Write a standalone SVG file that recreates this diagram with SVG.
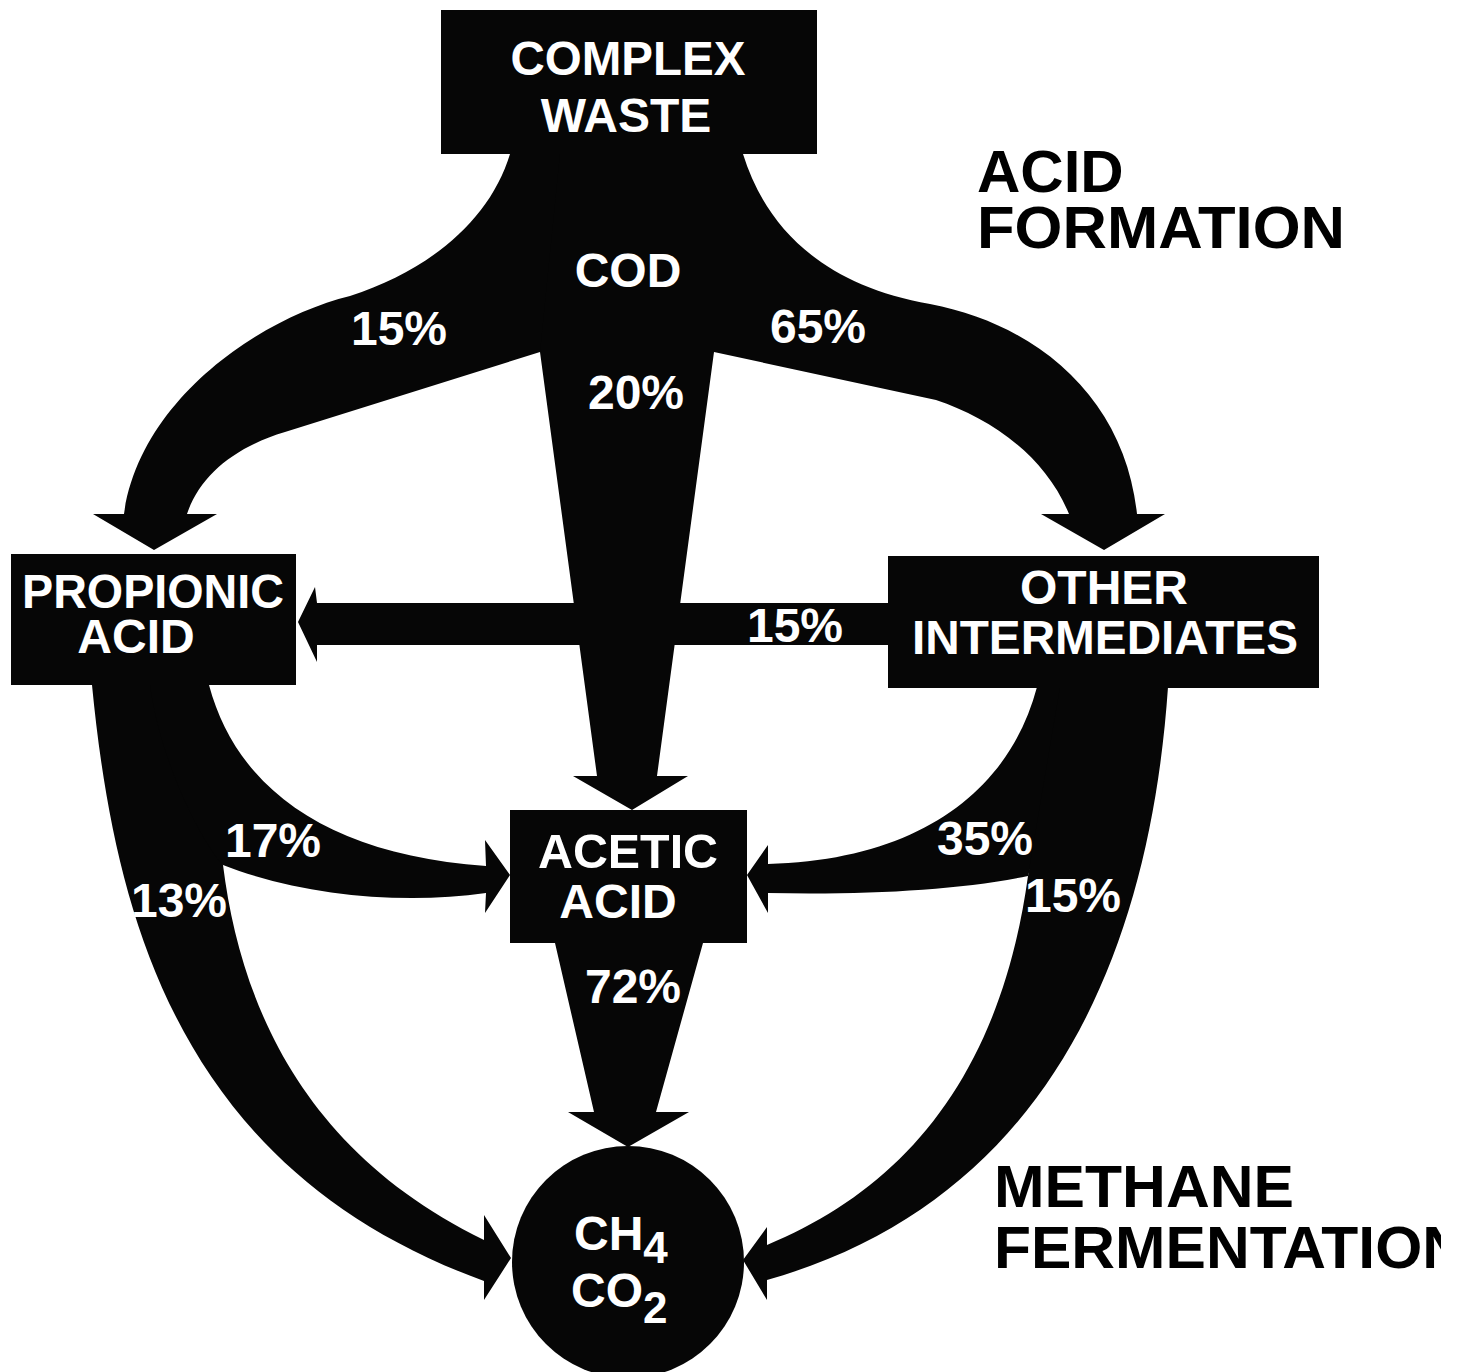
<svg xmlns="http://www.w3.org/2000/svg" width="1460" height="1372" viewBox="0 0 1460 1372">
<defs>
  <clipPath id="scanEdge"><rect x="0" y="0" width="1441" height="1372"/></clipPath>
</defs>
<style>
.blk{fill:#060606}
.lbl{font-family:"Liberation Sans",Arial,Helvetica,sans-serif;font-weight:bold;fill:#fff;font-size:48px}
.ttl{font-family:"Liberation Sans",Arial,Helvetica,sans-serif;font-weight:bold;fill:#000;font-size:60px}
.sub{font-size:44px}
</style>
<rect width="1460" height="1372" fill="#fff"/>
<g id="connectors" class="blk">
  <path id="flow-15-propionic" d="M510,154 C490,220 430,270 350,296 C260,318 140,400 124,514 L93,514 L154,550 L217,514 L187,514 C200,475 235,447 285,432 L540,352 L628,352 L628,154 Z"/>
  <path id="flow-20-acetic" d="M560,154 L700,154 L714,352 L657,776 L688,776 L632,810 L573,776 L597,776 L540,352 Z"/>
  <path id="flow-65-other" d="M743,154 C765,225 820,285 930,304 C1040,325 1125,400 1137,514 L1165,514 L1104,550 L1041,514 L1069,514 C1045,455 990,418 936,400 L714,352 L628,352 L628,154 Z"/>
  <path id="flow-15-other-propionic" d="M888,603 L317,603 L315,587 L298,622 L317,662 L317,645 L888,645 Z"/>
  <path id="flow-13-propionic-ch4" d="M92,685 C115,920 180,1170 484,1281 L484,1300 L511,1258 L484,1215 L484,1240 C300,1150 240,1000 223,865 L200,685 Z"/>
  <path id="flow-17-propionic-acetic" d="M150,685 L209,685 C237,790 330,855 486,866 L485,840 L510,875 L485,913 L486,893 C400,905 300,895 223,865 C200,840 160,760 150,685 Z"/>
  <path id="flow-35-other-acetic" d="M1037,687 C1010,790 920,860 768,864 L768,845 L747,875 L768,913 L768,893 C870,895 960,890 1028,876 L1080,687 Z"/>
  <path id="flow-15-other-ch4" d="M1168,687 C1150,950 1050,1200 767,1280 L767,1300 L743,1260 L767,1227 L767,1245 C900,1190 1000,1080 1028,876 L1060,687 Z"/>
  <path id="flow-72-acetic-ch4" d="M555,943 L703,943 L656,1112 L689,1112 L628,1147 L568,1112 L594,1112 Z"/>
  <g class="lbl">
    <text x="628" y="287" text-anchor="middle">COD</text>
    <text x="399" y="345" text-anchor="middle">15%</text>
    <text x="818" y="343" text-anchor="middle">65%</text>
    <text x="636" y="409" text-anchor="middle">20%</text>
    <text x="795" y="642" text-anchor="middle">15%</text>
    <text x="273" y="857" text-anchor="middle">17%</text>
    <text x="179" y="917" text-anchor="middle">13%</text>
    <text x="985" y="855" text-anchor="middle">35%</text>
    <text x="1073" y="912" text-anchor="middle">15%</text>
    <text x="633" y="1003" text-anchor="middle">72%</text>
  </g>
</g>
<g id="complex-waste">
  <rect class="blk" x="441" y="10" width="376" height="144"/>
  <text class="lbl" x="628" y="75" text-anchor="middle" textLength="235" lengthAdjust="spacingAndGlyphs">COMPLEX</text>
  <text class="lbl" x="626" y="132" text-anchor="middle">WASTE</text>
</g>
<g id="propionic-acid">
  <rect class="blk" x="11" y="554" width="285" height="131"/>
  <text class="lbl" x="153" y="608" text-anchor="middle" textLength="262" lengthAdjust="spacingAndGlyphs">PROPIONIC</text>
  <text class="lbl" x="136" y="653" text-anchor="middle">ACID</text>
</g>
<g id="other-intermediates">
  <rect class="blk" x="888" y="556" width="431" height="132"/>
  <text class="lbl" x="1104" y="604" text-anchor="middle">OTHER</text>
  <text class="lbl" x="1105" y="654" text-anchor="middle" textLength="386" lengthAdjust="spacingAndGlyphs">INTERMEDIATES</text>
</g>
<g id="acetic-acid">
  <rect class="blk" x="510" y="810" width="237" height="133"/>
  <text class="lbl" x="628" y="868" text-anchor="middle" textLength="180" lengthAdjust="spacingAndGlyphs">ACETIC</text>
  <text class="lbl" x="618" y="918" text-anchor="middle">ACID</text>
</g>
<g id="ch4-co2">
  <circle class="blk" cx="628" cy="1262" r="116"/>
  <text class="lbl" x="574" y="1250">CH<tspan class="sub" dy="13">4</tspan></text>
  <text class="lbl" x="571" y="1307">CO<tspan class="sub" dy="16">2</tspan></text>
</g>
<g id="titles">
  <text class="ttl" x="977" y="192">ACID</text>
  <text class="ttl" x="977" y="248" textLength="368" lengthAdjust="spacingAndGlyphs">FORMATION</text>
  <text class="ttl" x="994" y="1207" textLength="300" lengthAdjust="spacingAndGlyphs">METHANE</text>
  <g clip-path="url(#scanEdge)">
    <text class="ttl" x="994" y="1268" textLength="472" lengthAdjust="spacingAndGlyphs">FERMENTATION</text>
  </g>
</g>
</svg>
